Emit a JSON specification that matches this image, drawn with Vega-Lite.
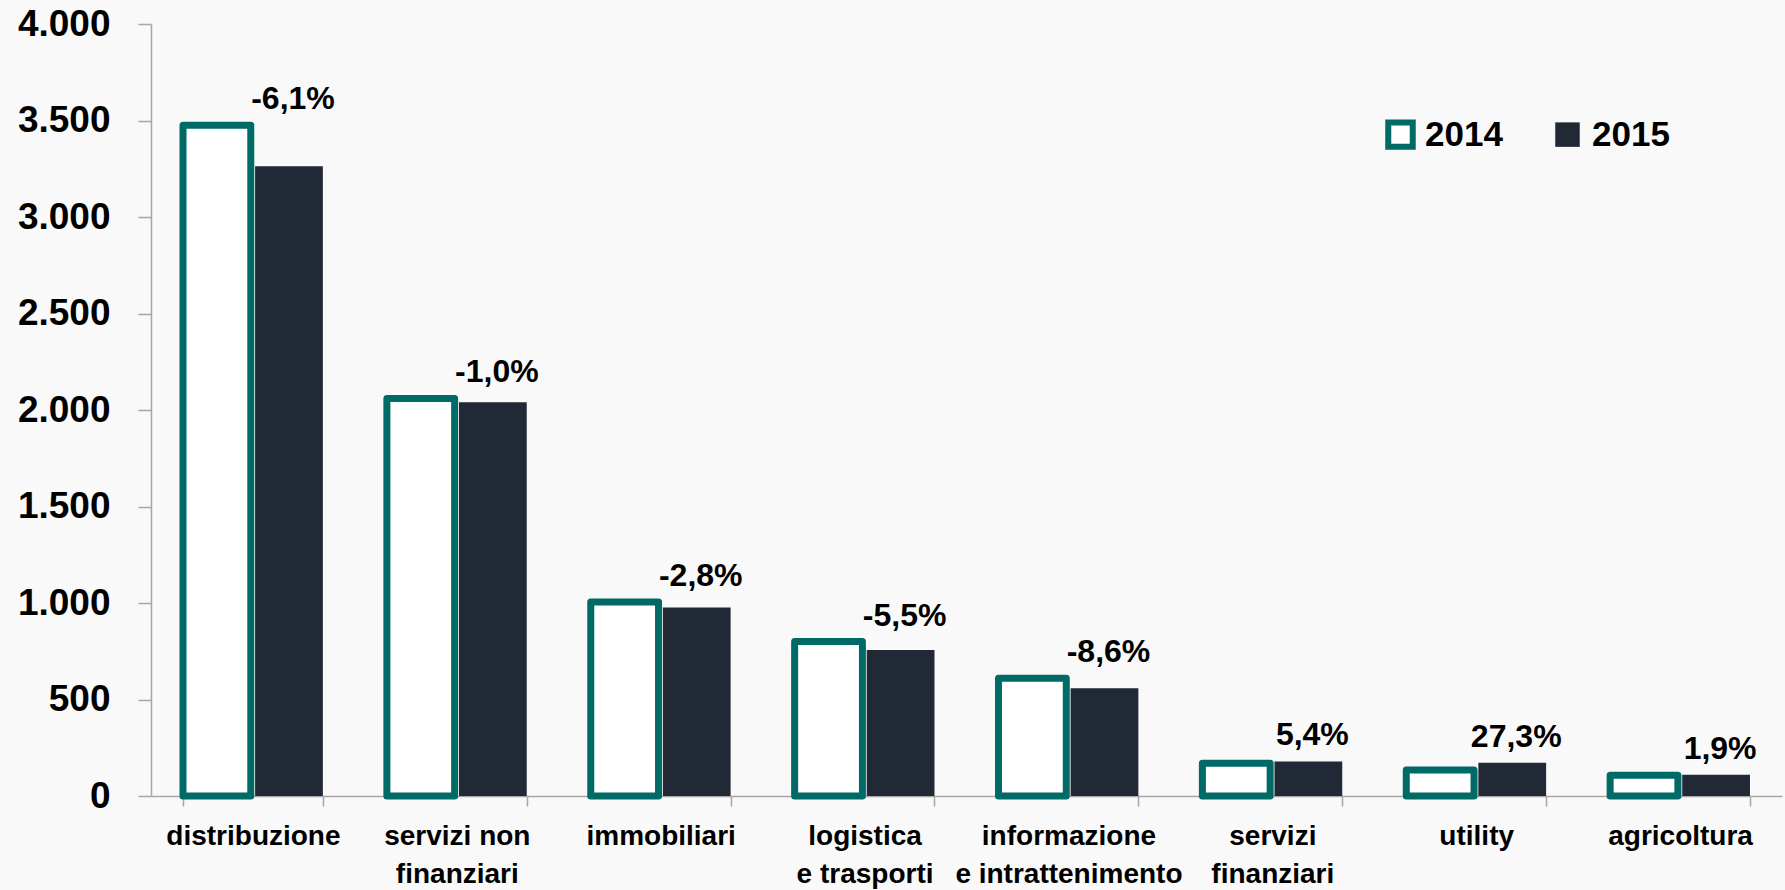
{
  "$schema": "https://vega.github.io/schema/vega-lite/v6.json",
  "autosize": {"type": "none"},
  "width": 1631,
  "height": 772,
  "padding": {"left": 151, "top": 24, "right": 3, "bottom": 94},
  "background": "#f9f9f9",
  "config": {"view": {"stroke": null}, "font": "Liberation Sans"},
  "datasets": {
    "bars": [
      {"cat": "distribuzione", "year": "2014", "value": 3475},
      {"cat": "distribuzione", "year": "2015", "value": 3263},
      {"cat": "servizi non finanziari", "year": "2014", "value": 2060},
      {"cat": "servizi non finanziari", "year": "2015", "value": 2040},
      {"cat": "immobiliari", "year": "2014", "value": 1005},
      {"cat": "immobiliari", "year": "2015", "value": 977},
      {"cat": "logistica e trasporti", "year": "2014", "value": 800},
      {"cat": "logistica e trasporti", "year": "2015", "value": 756},
      {"cat": "informazione e intrattenimento", "year": "2014", "value": 610},
      {"cat": "informazione e intrattenimento", "year": "2015", "value": 558},
      {"cat": "servizi finanziari", "year": "2014", "value": 170},
      {"cat": "servizi finanziari", "year": "2015", "value": 179},
      {"cat": "utility", "year": "2014", "value": 135},
      {"cat": "utility", "year": "2015", "value": 172},
      {"cat": "agricoltura", "year": "2014", "value": 108},
      {"cat": "agricoltura", "year": "2015", "value": 110}
    ],
    "labels": [
      {"cat": "distribuzione", "pct": "-6,1%", "top": 3475},
      {"cat": "servizi non finanziari", "pct": "-1,0%", "top": 2060},
      {"cat": "immobiliari", "pct": "-2,8%", "top": 1005},
      {"cat": "logistica e trasporti", "pct": "-5,5%", "top": 800},
      {"cat": "informazione e intrattenimento", "pct": "-8,6%", "top": 610},
      {"cat": "servizi finanziari", "pct": "5,4%", "top": 179},
      {"cat": "utility", "pct": "27,3%", "top": 172},
      {"cat": "agricoltura", "pct": "1,9%", "top": 110}
    ]
  },
  "layer": [
    {
      "data": {"name": "bars"},
      "mark": {"type": "bar", "strokeWidth": 7, "strokeJoin": "round"},
      "encoding": {
        "x": {
          "field": "cat", "type": "nominal",
          "sort": ["distribuzione", "servizi non finanziari", "immobiliari", "logistica e trasporti", "informazione e intrattenimento", "servizi finanziari", "utility", "agricoltura"],
          "scale": {"paddingInner": 0.314, "paddingOuter": 0.157},
          "axis": {
            "title": null,
            "labelAngle": 0,
            "labelExpr": "datum.value == 'servizi non finanziari' ? ['servizi non', 'finanziari'] : datum.value == 'logistica e trasporti' ? ['logistica', 'e trasporti'] : datum.value == 'informazione e intrattenimento' ? ['informazione', 'e intrattenimento'] : datum.value == 'servizi finanziari' ? ['servizi', 'finanziari'] : datum.value",
            "labelFont": "Liberation Sans",
            "labelFontSize": 28,
            "labelFontWeight": "bold",
            "labelColor": "#000000",
            "labelLineHeight": 38,
            "labelPadding": 16,
            "labelLimit": 400,
            "tickBand": "extent",
            "tickSize": 10,
            "tickColor": "#a6a6a6",
            "tickWidth": 1.5,
            "domainColor": "#a6a6a6",
            "domainWidth": 1.5
          }
        },
        "xOffset": {"field": "year", "type": "nominal", "scale": {"paddingInner": 0.06}},
        "y": {
          "field": "value", "type": "quantitative",
          "scale": {"domain": [0, 4000]},
          "axis": {
            "title": null,
            "values": [0, 500, 1000, 1500, 2000, 2500, 3000, 3500, 4000],
            "labelExpr": "replace(format(datum.value, ','), ',', '.')",
            "grid": false,
            "labelFontSize": 37,
            "labelFontWeight": "bold",
            "labelColor": "#000000",
            "labelPadding": 28,
            "tickSize": 13,
            "tickColor": "#a6a6a6",
            "tickWidth": 1.5,
            "domainColor": "#a6a6a6",
            "domainWidth": 1.5
          }
        },
        "fill": {
          "field": "year", "type": "nominal",
          "scale": {"domain": ["2014", "2015"], "range": ["#ffffff", "#212836"]},
          "legend": {
            "title": null,
            "orient": "none",
            "legendX": 1232,
            "legendY": 93,
            "direction": "horizontal",
            "symbolType": "square",
            "symbolSize": 600,
            "symbolStrokeWidth": 6,
            "labelFontSize": 35,
            "labelFontWeight": "bold",
            "labelColor": "#000000",
            "labelOffset": 7,
            "columnPadding": 40,
            "padding": 0
          }
        },
        "stroke": {
          "field": "year", "type": "nominal",
          "scale": {"domain": ["2014", "2015"], "range": ["#006A66", "rgba(0,0,0,0)"]}
        }
      }
    },
    {
      "data": {"name": "labels"},
      "mark": {"type": "text", "baseline": "bottom", "dy": -9, "dx": 4, "fontSize": 32, "fontWeight": "bold", "color": "#000000"},
      "encoding": {
        "x": {"field": "cat", "type": "nominal", "sort": ["distribuzione", "servizi non finanziari", "immobiliari", "logistica e trasporti", "informazione e intrattenimento", "servizi finanziari", "utility", "agricoltura"]},
        "xOffset": {"datum": "2015"},
        "y": {"field": "top", "type": "quantitative"},
        "text": {"field": "pct"}
      }
    }
  ]
}
